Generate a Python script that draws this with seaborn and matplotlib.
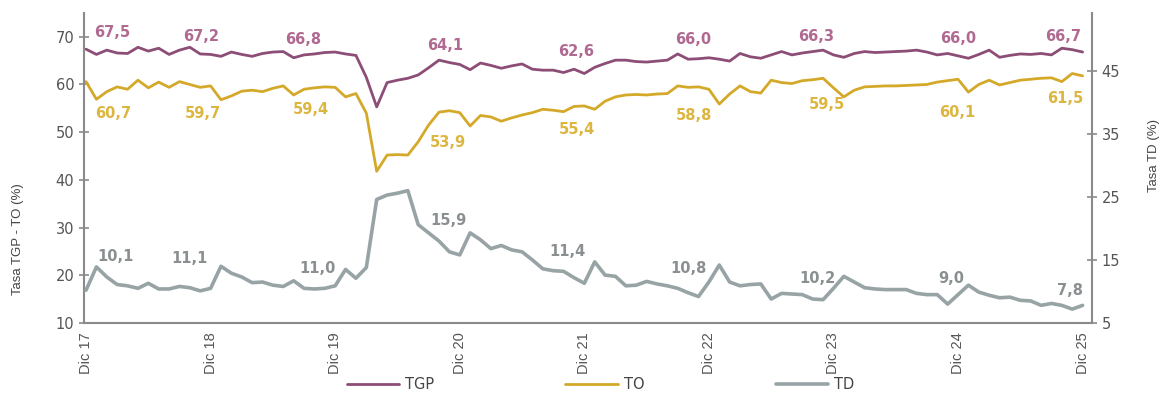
import numpy as np
import pandas as pd
import matplotlib
matplotlib.use("Agg")
import matplotlib.pyplot as plt
import seaborn as sns

# ---------------- data ----------------
tick_labels = ["Dic 17", "Dic 18", "Dic 19", "Dic 20", "Dic 21",
               "Dic 22", "Dic 23", "Dic 24", "Dic 25"]

tgp = [67.4, 66.3, 67.2, 66.6, 66.5, 67.8, 67.0, 67.6, 66.3, 67.2,
       67.8, 66.4, 66.3, 65.9, 66.8, 66.3, 65.9, 66.5, 66.8, 66.9,
       65.6, 66.2, 66.4, 66.7, 66.8, 66.4, 66.1, 61.5, 55.3, 60.4,
       60.9, 61.3, 62.0, 63.5, 65.1, 64.6, 64.2, 63.1, 64.5, 64.0,
       63.4, 63.9, 64.3, 63.2, 63.0, 63.0, 62.5, 63.2, 62.3, 63.6,
       64.4, 65.1, 65.1, 64.8, 64.7, 64.9, 65.1, 66.4, 65.3, 65.4,
       65.6, 65.3, 64.9, 66.5, 65.8, 65.5, 66.2, 66.9, 66.2, 66.6,
       66.9, 67.2, 66.2, 65.7, 66.5, 66.9, 66.7, 66.8, 66.9, 67.0,
       67.2, 66.8, 66.2, 66.5, 66.0, 65.5, 66.3, 67.2, 65.7, 66.1,
       66.4, 66.3, 66.5, 66.2, 67.6, 67.3, 66.8]

to = [60.6, 56.9, 58.5, 59.5, 59.0, 60.9, 59.3, 60.5, 59.4, 60.6,
      60.0, 59.4, 59.7, 56.8, 57.6, 58.6, 58.8, 58.5, 59.2, 59.7,
      57.8, 59.0, 59.3, 59.5, 59.4, 57.4, 58.1, 54.0, 41.8, 45.2,
      45.3, 45.2, 48.0, 51.5, 54.2, 54.5, 54.1, 51.3, 53.5, 53.2,
      52.3, 53.0, 53.6, 54.1, 54.8, 54.6, 54.3, 55.4, 55.5, 54.8,
      56.5, 57.4, 57.8, 57.9, 57.8, 58.0, 58.1, 59.7, 59.4, 59.5,
      59.0, 55.9, 58.0, 59.7, 58.5, 58.2, 60.9, 60.4, 60.2, 60.8,
      61.0, 61.3, 59.3, 57.4, 58.8, 59.5, 59.6, 59.7, 59.7, 59.8,
      59.9, 60.0, 60.5, 60.8, 61.1, 58.4, 60.0, 60.9, 59.9, 60.4,
      60.9, 61.1, 61.3, 61.4, 60.6, 62.3, 61.8]

td = [10.2, 13.9, 12.3, 11.1, 10.9, 10.5, 11.3, 10.4, 10.4, 10.8,
      10.6, 10.1, 10.5, 14.0, 12.9, 12.3, 11.4, 11.5, 11.0, 10.8,
      11.7, 10.5, 10.4, 10.5, 10.9, 13.5, 12.1, 13.8, 24.6, 25.3,
      25.6, 26.0, 20.6, 19.3, 18.0, 16.3, 15.8, 19.3, 18.2, 16.8,
      17.3, 16.6, 16.3, 15.0, 13.6, 13.3, 13.2, 12.2, 11.3, 14.7,
      12.6, 12.4, 10.9, 11.0, 11.6, 11.2, 10.9, 10.5, 9.8, 9.2,
      11.5, 14.2, 11.5, 10.9, 11.1, 11.2, 8.8, 9.7, 9.6, 9.5,
      8.8, 8.7, 10.5, 12.4, 11.5, 10.6, 10.4, 10.3, 10.3, 10.3,
      9.7, 9.5, 9.5, 8.0, 9.5, 11.0, 9.9, 9.4, 9.0, 9.1,
      8.6, 8.5, 7.8, 8.1, 7.8, 7.2, 7.8]

# annotation labels (text, x in months, y in axis units)
tgp_notes = ["67,5", "67,2", "66,8", "64,1", "62,6", "66,0", "66,3", "66,0", "66,7"]
tgp_note_x = [2.5, 11.1, 20.9, 34.6, 47.2, 58.5, 70.3, 84.0, 94.1]
tgp_note_y = [71.0, 70.0, 69.5, 68.1, 67.0, 69.5, 70.0, 69.7, 70.0]

to_notes = ["60,7", "59,7", "59,4", "53,9", "55,4", "58,8", "59,5", "60,1", "61,5"]
to_note_x = [2.6, 11.3, 21.7, 34.9, 47.3, 58.6, 71.4, 83.9, 94.3]
to_note_y = [54.0, 54.0, 54.7, 47.9, 50.5, 53.6, 55.7, 54.2, 57.0]

td_notes = ["10,1", "11,1", "11,0", "15,9", "11,4", "10,8", "10,2", "9,0", "7,8"]
td_note_x = [2.8, 10.0, 22.3, 34.9, 46.4, 58.0, 70.5, 83.3, 94.8]
td_note_y = [15.6, 15.2, 13.7, 21.3, 16.3, 13.6, 12.1, 12.1, 10.1]

months = np.arange(len(tgp))
df = pd.DataFrame({"mes": months, "TGP": tgp, "TO": to, "TD": td})

# ---------------- style ----------------
sns.set_style("white")
plt.rcParams["font.family"] = ["DejaVu Sans"]

c_tgp = "#8C4D76"
c_to = "#D4A92A"
c_td = "#97A3A5"
axis_c = "#8A8A8A"
txt_c = "#555555"

fig = plt.figure(figsize=(11.66, 4.04), dpi=100)
ax = fig.add_axes([0.072, 0.2005, 0.8645, 0.7675])
ax2 = ax.twinx()

sns.lineplot(data=df, x="mes", y="TGP", ax=ax, color=c_tgp, lw=2.0, label="TGP")
sns.lineplot(data=df, x="mes", y="TO", ax=ax, color=c_to, lw=2.0, label="TO")
sns.lineplot(data=df, x="mes", y="TD", ax=ax2, color=c_td, lw=2.6, label="TD")

ax.set_xlim(-0.2, 96.9)
ax.set_ylim(10, 75)
ax2.set_ylim(5, 54.2)

ax.set_yticks([10, 20, 30, 40, 50, 60, 70])
ax2.set_yticks([5, 15, 25, 35, 45])
ax.set_xticks(np.arange(0, 97, 12))
ax.set_xticklabels(tick_labels, rotation=90, fontsize=10.5,
                   family=["Liberation Sans", "DejaVu Sans"], color=txt_c)

for a in (ax, ax2):
    a.spines["top"].set_visible(False)
    for s in ("left", "right", "bottom"):
        a.spines[s].set_color(axis_c)
        a.spines[s].set_linewidth(1.5)
    a.tick_params(axis="both", colors=axis_c, direction="inout", length=7, width=1.2,
                  labelcolor=txt_c, labelsize=10.5)
ax.spines["right"].set_visible(False)
ax2.spines["left"].set_visible(False)
ax2.spines["bottom"].set_visible(False)
ax.tick_params(axis="x", labelsize=10.5, pad=3)

ax.set_xlabel("")
ax.set_ylabel("Tasa TGP - TO (%)", fontsize=9.5, color="#444444",
              family=["Liberation Sans", "DejaVu Sans"])
ax.yaxis.set_label_coords(-0.059, 0.27)
ax2.set_ylabel("Tasa TD (%)", fontsize=9.5, color="#444444", rotation=90,
               family=["Liberation Sans", "DejaVu Sans"])
ax2.yaxis.set_label_coords(1.056, 0.54)

for t, x, y in zip(tgp_notes, tgp_note_x, tgp_note_y):
    ax.text(x, y, t, color="#B06A92", fontsize=10.5, fontweight="bold",
            ha="center", va="center")
for t, x, y in zip(to_notes, to_note_x, to_note_y):
    ax.text(x, y, t, color="#DDB640", fontsize=10.5, fontweight="bold",
            ha="center", va="center")
for t, x, y in zip(td_notes, td_note_x, td_note_y):
    ax2.text(x, y, t, color="#8A9091", fontsize=10.5, fontweight="bold",
             ha="center", va="center")

h1, l1 = ax.get_legend_handles_labels()
h2, l2 = ax2.get_legend_handles_labels()
for a in (ax, ax2):
    if a.get_legend() is not None:
        a.get_legend().remove()
fig.legend(h1 + h2, l1 + l2, loc="center", bbox_to_anchor=(0.515, 0.048),
           ncol=3, frameon=False, handlelength=3.6, columnspacing=9.0,
           handletextpad=0.4, prop={"size": 10.5},
           labelcolor="#444444")

fig.savefig("out.png", dpi=100)
